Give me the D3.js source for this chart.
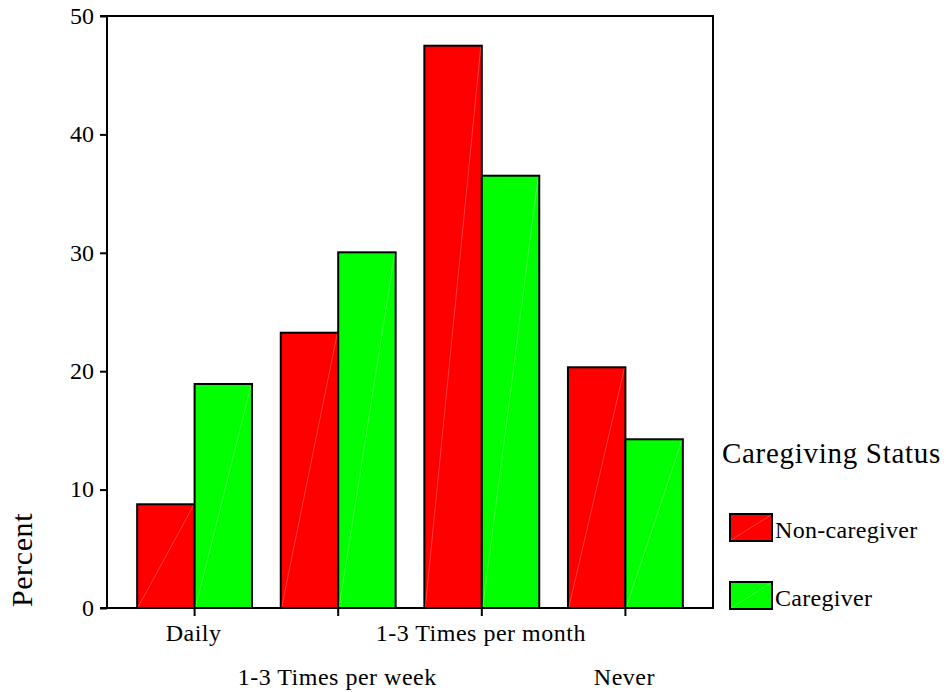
<!DOCTYPE html>
<html>
<head>
<meta charset="utf-8">
<script src="https://cdn.jsdelivr.net/npm/d3@7"></script>
<style>
  html, body { margin: 0; padding: 0; background: #fff; }
  svg { display: block; }
  text { font-family: "Liberation Serif", "Times New Roman", serif; fill: #000; }
</style>
</head>
<body>
<svg id="chart" width="946" height="692"></svg>
<script>
const categories = ["Daily", "1-3 Times per week", "1-3 Times per month", "Never"];
const seriesNames = ["Non-caregiver", "Caregiver"];
const nonCaregiver = [8.76, 23.25, 47.49, 20.33];
const caregiver = [18.92, 30.04, 36.51, 14.25];
const yTicks = [0, 10, 20, 30, 40, 50];
const colors = ["#ff0000", "#00ff00"];
const legendTitle = "Caregiving Status";
const yTitle = "Percent";

const svg = d3.select("#chart");
const pLeft = 107, pRight = 713, pTop = 16, pBottom = 608;

const x = d3.scaleBand().domain(categories).range([pLeft, pRight])
  .paddingInner(0.2).paddingOuter(0.21);
const xs = d3.scaleBand().domain(seriesNames).range([0, x.bandwidth()]).padding(0);
const y = d3.scaleLinear().domain([0, 50]).range([pBottom, pTop]);

const seriesValues = [nonCaregiver, caregiver];
const data = [];
categories.forEach((c, i) => {
  seriesNames.forEach((s, j) => data.push({ cat: c, ser: s, v: seriesValues[j][i], j }));
});

// bars
const g = svg.append("g");
g.selectAll("rect.bar").data(data).enter().append("rect")
  .attr("class", "bar")
  .attr("x", d => x(d.cat) + xs(d.ser))
  .attr("y", d => y(d.v))
  .attr("width", xs.bandwidth())
  .attr("height", d => y(0) - y(d.v))
  .attr("fill", d => colors[d.j])
  .attr("stroke", "#000")
  .attr("stroke-width", 2);

// faint diagonal artifacts
g.selectAll("line.diag").data(data).enter().append("line")
  .attr("x1", d => x(d.cat) + xs(d.ser) + 1)
  .attr("y1", y(0) - 1)
  .attr("x2", d => x(d.cat) + xs(d.ser) + xs.bandwidth() - 1)
  .attr("y2", d => y(d.v) + 1)
  .attr("stroke", "#ffffff")
  .attr("stroke-opacity", 0.3)
  .attr("stroke-width", 0.8);

// frame lines
const frame = svg.append("g").attr("stroke", "#000").attr("stroke-width", 2);
frame.append("line").attr("x1", pLeft - 7).attr("x2", pRight + 1).attr("y1", pTop).attr("y2", pTop);
frame.append("line").attr("x1", pRight).attr("x2", pRight).attr("y1", pTop).attr("y2", pBottom);

// y axis
const yAxis = d3.axisLeft(y).tickValues(yTicks).tickSize(7).tickPadding(6).tickFormat(d3.format("d"));
const ya = svg.append("g").attr("transform", `translate(${pLeft},0)`).call(yAxis);
ya.select(".domain").attr("stroke-width", 2).attr("d", `M0,${pTop}V${pBottom}`);
ya.selectAll(".tick line").attr("stroke-width", 2);
ya.selectAll(".tick text").attr("font-size", 24).attr("font-family", "Liberation Serif, serif")
  .attr("dy", "0.3em");

// x axis
const xAxis = d3.axisBottom(x).tickSize(8).tickFormat("");
const xa = svg.append("g").attr("transform", `translate(0,${pBottom})`).call(xAxis);
xa.select(".domain").attr("stroke-width", 2).attr("d", `M${pLeft - 7},0H${pRight + 1}`);
xa.selectAll(".tick line").attr("stroke-width", 2);

// staggered category labels
svg.append("g").selectAll("text").data(categories).enter().append("text")
  .attr("x", d => x(d) + x.bandwidth() / 2 - 1)
  .attr("y", (d, i) => i % 2 === 0 ? 641 : 685)
  .attr("text-anchor", "middle")
  .attr("font-size", 24)
  .attr("letter-spacing", "0.5px")
  .text(d => d);

// y title
svg.append("text")
  .attr("transform", "translate(32,560) rotate(-90)")
  .attr("text-anchor", "middle")
  .attr("font-size", 30)
  .attr("letter-spacing", "0.6px")
  .text(yTitle);

// legend
svg.append("text").attr("x", 722).attr("y", 463)
  .attr("font-size", 29).attr("letter-spacing", "0.7px").text(legendTitle);
const leg = svg.append("g").selectAll("g").data(seriesNames).enter().append("g")
  .attr("transform", (d, i) => `translate(730,${514 + i * 68})`);
leg.append("rect").attr("width", 42).attr("height", 27)
  .attr("fill", (d, i) => colors[i]).attr("stroke", "#000").attr("stroke-width", 2);
leg.append("line").attr("x1", 1).attr("y1", 26).attr("x2", 41).attr("y2", 1)
  .attr("stroke", "#fff").attr("stroke-opacity", 0.3).attr("stroke-width", 0.8);
leg.append("text").attr("x", 45).attr("y", 24).attr("font-size", 24)
  .attr("letter-spacing", "0.3px").text(d => d);
</script>
</body>
</html>
